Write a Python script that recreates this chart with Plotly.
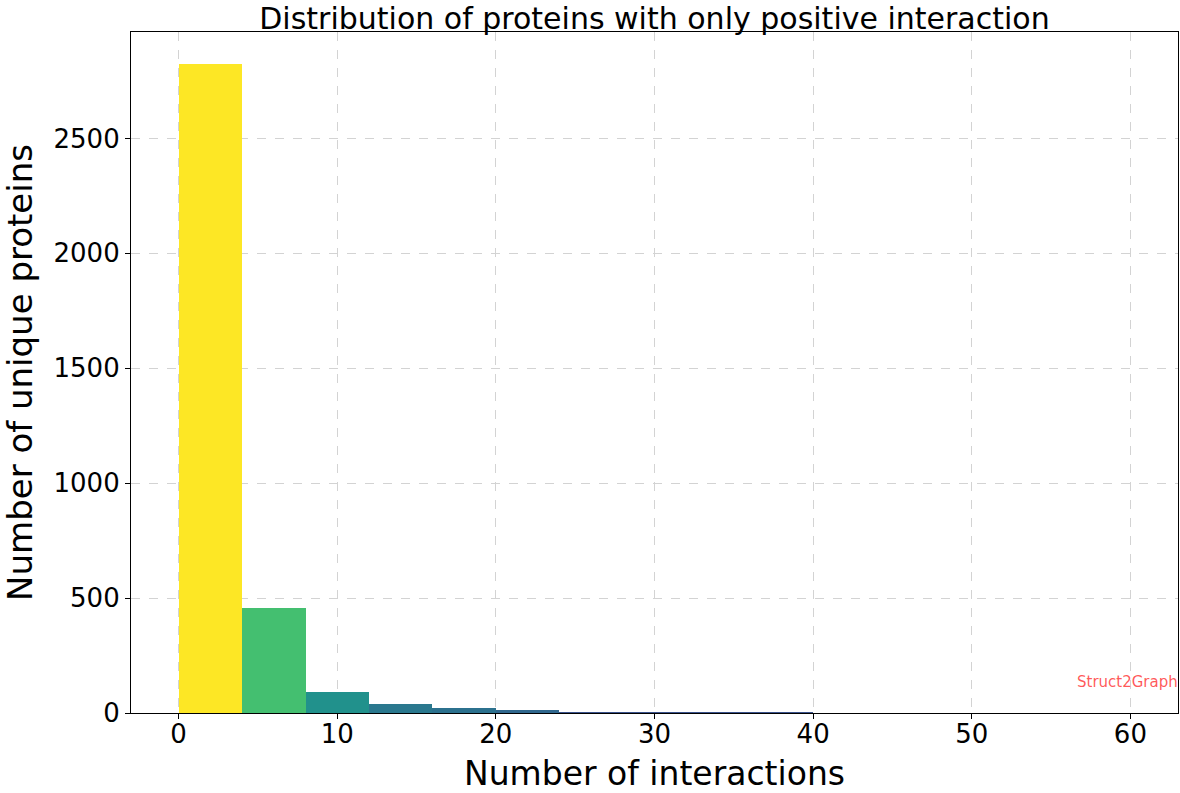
import plotly.graph_objects as go

bin_starts = [0, 4, 8, 12, 16, 20, 24, 28, 32, 36, 40, 44, 48, 52, 56]
counts = [2822, 458, 93, 38, 22, 12, 4, 3, 2, 2, 0, 0, 0, 0, 0]
bar_colors = ["#fde725", "#44bf70", "#21918c", "#2a788e", "#2c718e", "#30678d",
              "#3b528b", "#3b528b", "#3b528b", "#3b528b", "#440154", "#440154",
              "#440154", "#440154", "#440154"]
bin_width = 4

centers = [s + bin_width / 2 for s in bin_starts]

fig = go.Figure()
fig.add_trace(go.Bar(
    x=centers, y=counts, width=[bin_width] * len(centers),
    marker=dict(color=bar_colors, line=dict(width=0)),
    showlegend=False,
))

font = "DejaVu Sans, Verdana, sans-serif"
fig.update_layout(
    width=1180, height=793, autosize=False,
    paper_bgcolor="white", plot_bgcolor="white",
    margin=dict(l=131, r=2, t=32, b=80, pad=0),
    font=dict(family=font, color="black"),
    title=dict(text="Distribution of proteins with only positive interaction",
               x=(131 + 1178) / 2 / 1180, xanchor="center",
               y=1 - 18 / 793, yanchor="middle",
               font=dict(size=30, family=font, color="black")),
    bargap=0,
)
axis_common = dict(
    showline=True, linecolor="black", linewidth=1.2, mirror=True,
    ticks="outside", ticklen=5, tickwidth=1.2, tickcolor="black",
    showgrid=True, gridcolor="#d3d3d3", griddash="dash", gridwidth=1,
    zeroline=False, tickfont=dict(size=26, family=font, color="black"),
    automargin=False,
)
fig.update_xaxes(range=[-3, 63], tickvals=[0, 10, 20, 30, 40, 50, 60],
                 ticklabelstandoff=-7,
                 title=dict(text="Number of interactions", font=dict(size=33, family=font), standoff=24),
                 **axis_common)
fig.update_yaxes(range=[0, 2963], tickvals=[0, 500, 1000, 1500, 2000, 2500],
                 title=dict(text="Number of unique proteins", font=dict(size=34, family=font), standoff=12),
                 **axis_common)

fig.add_annotation(text="Struct2Graph", xref="paper", yref="paper",
                   x=1.0, y=(713 - 682) / 681, xanchor="right", yanchor="middle", xshift=2,
                   showarrow=False, font=dict(size=15, color="rgba(255,60,60,0.85)", family=font))

fig.write_html(
    "out.html",
    config={"responsive": False, "displayModeBar": False},
    post_script="document.body.style.margin='0';document.body.style.overflow='hidden';",
)
